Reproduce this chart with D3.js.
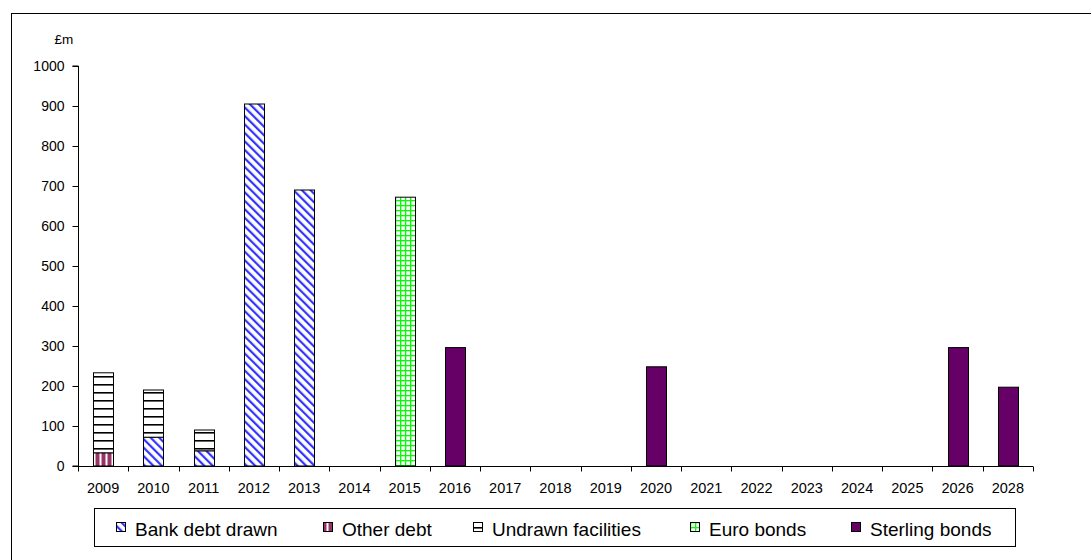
<!DOCTYPE html>
<html>
<head>
<meta charset="utf-8">
<script src="https://cdn.jsdelivr.net/npm/d3@7"></script>
<style>
  body { margin: 0; background: #fff; }
  text { font-family: "Liberation Sans", Arial, sans-serif; }
</style>
</head>
<body>
<svg id="chart" width="1091" height="560"></svg>
<script>
// categories (2027 is not in the chart)
var years = ["2009","2010","2011","2012","2013","2014","2015","2016","2017","2018","2019","2020","2021","2022","2023","2024","2025","2026","2028"];

// series values, £m
var bankDebt      = [0, 72, 38, 905, 690, 0, 0, 0, 0, 0, 0, 0, 0, 0, 0, 0, 0, 0, 0];
var otherDebt     = [33, 0, 0, 0, 0, 0, 0, 0, 0, 0, 0, 0, 0, 0, 0, 0, 0, 0, 0];
var undrawn       = [200, 118, 52, 0, 0, 0, 0, 0, 0, 0, 0, 0, 0, 0, 0, 0, 0, 0, 0];
var euroBonds     = [0, 0, 0, 0, 0, 0, 672, 0, 0, 0, 0, 0, 0, 0, 0, 0, 0, 0, 0];
var sterlingBonds = [0, 0, 0, 0, 0, 0, 0, 296, 0, 0, 0, 248, 0, 0, 0, 0, 0, 296, 197];

var seriesNames = ["Bank debt drawn", "Other debt", "Undrawn facilities", "Euro bonds", "Sterling bonds"];
var yTicks = [0, 100, 200, 300, 400, 500, 600, 700, 800, 900, 1000];

var svg = d3.select("#chart");

//outer frame
svg.append("rect")
    .attr("x", 11.5).attr("y", 13.5)
    .attr("width", 1100).attr("height", 560)
    .attr("fill", "none").attr("stroke", "#000").attr("stroke-width", 1);

//patterns
var defs = svg.append("defs");

var p1 = defs.append("pattern").attr("id", "pBank")
    .attr("patternUnits", "userSpaceOnUse").attr("width", 6).attr("height", 6)
    .attr("patternTransform", "rotate(-45)");
p1.append("rect").attr("width", 6).attr("height", 6).attr("fill", "#fff");
p1.append("rect").attr("x", 0).attr("y", 0).attr("width", 2.2).attr("height", 6).attr("fill", "#3333ff");

var p2 = defs.append("pattern").attr("id", "pOther")
    .attr("patternUnits", "userSpaceOnUse").attr("width", 6).attr("height", 6);
p2.append("rect").attr("width", 6).attr("height", 6).attr("fill", "#993366");
p2.append("rect").attr("x", 3.5).attr("width", 2).attr("height", 6).attr("fill", "#fff");

var p3 = defs.append("pattern").attr("id", "pUndrawn")
    .attr("patternUnits", "userSpaceOnUse").attr("width", 8).attr("height", 8);
p3.append("rect").attr("width", 8).attr("height", 8).attr("fill", "#fff");
p3.append("rect").attr("y", 0).attr("width", 8).attr("height", 1.6).attr("fill", "#000");

var p4 = defs.append("pattern").attr("id", "pEuro")
    .attr("patternUnits", "userSpaceOnUse").attr("width", 5).attr("height", 5);
p4.append("rect").attr("width", 5).attr("height", 5).attr("fill", "#fff");
p4.append("rect").attr("width", 5).attr("height", 1.3).attr("fill", "#00ff00");
p4.append("rect").attr("width", 1.3).attr("height", 5).attr("fill", "#00ff00");

var fills = ["url(#pBank)", "url(#pOther)", "url(#pUndrawn)", "url(#pEuro)", "#660066"];

//scales
var x = d3.scaleBand().domain(years).range([78, 1033]).paddingInner(0).paddingOuter(0);
var y = d3.scaleLinear().domain([0, 1000]).range([466, 66]);
var barW = 20;

//stack
var rows = years.map(function (yr, i) {
    return { year: yr, b: bankDebt[i], o: otherDebt[i], u: undrawn[i], e: euroBonds[i], s: sterlingBonds[i] };
});
var stack = d3.stack().keys(["b", "o", "u", "e", "s"]);
var layers = stack(rows);

var g = svg.append("g");
layers.forEach(function (layer, k) {
    g.selectAll(".bar" + k)
        .data(layer.filter(function (d) { return d[1] - d[0] > 0; }))
        .enter().append("rect")
        .attr("x", function (d) { return Math.round(x(d.data.year) + x.bandwidth() / 2 - barW / 2) + 0.5; })
        .attr("y", function (d) { return y(d[1]); })
        .attr("width", barW)
        .attr("height", function (d) { return y(d[0]) - y(d[1]); })
        .attr("fill", fills[k])
        .attr("stroke", "#000").attr("stroke-width", 1);
});

//axes
var yAxis = svg.append("g").attr("transform", "translate(78.5,0)")
    .call(d3.axisLeft(y).tickValues(yTicks).tickFormat(d3.format("d")).tickSize(6).tickPadding(8));
yAxis.select(".domain").attr("d", "M-6," + y(1000) + "H0V" + y(0) + "H-6");
yAxis.selectAll("text").attr("font-size", 14).attr("fill", "#000")
    .style("font-family", "'Liberation Sans', Arial, sans-serif");

var xAxis = svg.append("g").attr("transform", "translate(0," + (y(0) + 0.5) + ")");
xAxis.append("line").attr("x1", 78).attr("x2", 1033).attr("stroke", "#000");
var tickPos = years.map(function (yr) { return x(yr); }).concat([1033]);
xAxis.selectAll(".xt").data(tickPos).enter().append("line")
    .attr("x1", function (d) { return Math.round(d) + 0.5; })
    .attr("x2", function (d) { return Math.round(d) + 0.5; })
    .attr("y1", 0).attr("y2", 5).attr("stroke", "#000");
xAxis.selectAll(".xl").data(years).enter().append("text")
    .attr("x", function (d) { return x(d) + x.bandwidth() / 2; })
    .attr("y", 26.5)
    .attr("text-anchor", "middle").attr("font-size", 14.5)
    .text(function (d) { return d; });

svg.append("text").attr("x", 64).attr("y", 44)
    .attr("text-anchor", "middle").attr("font-size", 13.5).text("£m");

//legend
svg.append("rect").attr("x", 94.5).attr("y", 508.5).attr("width", 921).attr("height", 38)
    .attr("fill", "#fff").attr("stroke", "#000");
var legendX = [116, 323, 473, 690, 851];
var lg = svg.selectAll(".leg").data(seriesNames).enter().append("g")
    .attr("transform", function (d, i) { return "translate(" + legendX[i] + ",527)"; });
lg.append("rect").attr("x", 0.5).attr("y", -4.5).attr("width", 9).attr("height", 9)
    .attr("fill", function (d, i) { return fills[i]; })
    .attr("stroke", "#000");
lg.append("text").attr("x", 19).attr("y", 8.5).attr("font-size", 19)
    .text(function (d) { return d; });
</script>
</body>
</html>
